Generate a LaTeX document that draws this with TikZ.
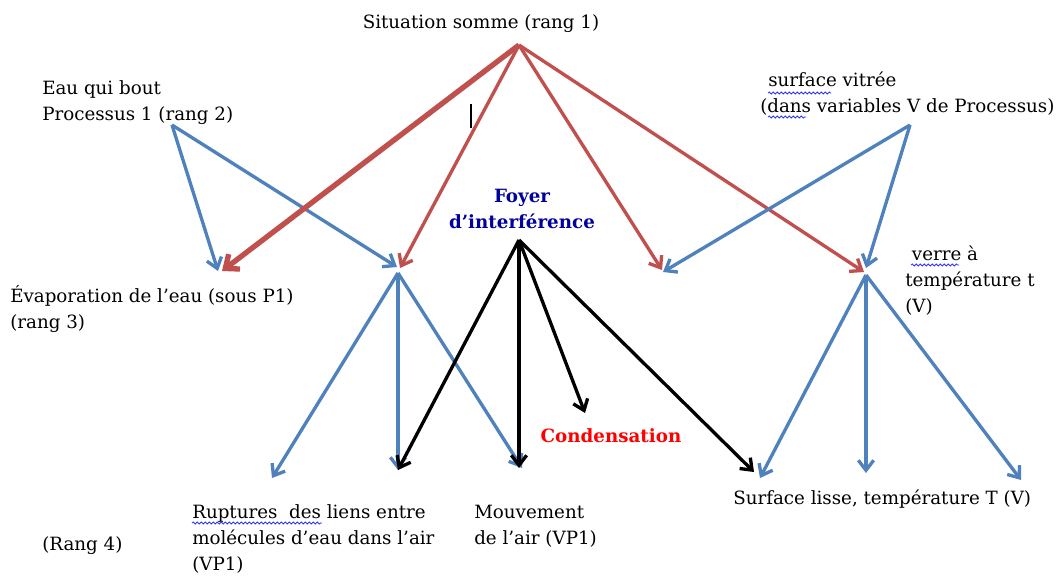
\documentclass[tikz,border=0pt]{standalone}
\usepackage{fontspec}
\setmainfont{DejaVu Serif}
\usetikzlibrary{arrows.meta,decorations.pathmorphing}
\definecolor{arblue}{HTML}{4F81BD}
\definecolor{arred}{HTML}{C0504D}
\definecolor{foyerblue}{HTML}{00009C}
\definecolor{condred}{HTML}{FF0000}
\begin{document}
\begin{tikzpicture}[x=0.75pt,y=-0.75pt,
  lbl/.style={inner sep=0pt, anchor=base west, align=left, font=\fontsize{13.7}{19.5}\selectfont},
  tip/.style={-{Straight Barb[length=7.5pt,width=11.5pt]}},
  bluearrow/.style={tip, draw=arblue, line width=2.5pt},
  redarrow/.style={tip, draw=arred, line width=2.5pt},
  thickred/.style={-{Straight Barb[length=8.5pt,width=14pt]}, draw=arred, line width=4pt},
  blackarrow/.style={tip, draw=black, line width=2.5pt},
  squiggle/.style={draw=blue!80!white, line width=0.6pt, decorate, decoration={snake, amplitude=0.8pt, segment length=3pt}}]
\useasboundingbox (0,0) rectangle (1059,575);

% labels (base = baseline of the last line)
\node[lbl, anchor=base] (title) at (481,28) {Situation somme (rang 1)};
\node[lbl] (eau) at (42,120) {Eau qui bout\\Processus 1 (rang 2)};
\node[lbl] (surf) at (760,112) {\hspace*{6pt}surface vitrée\\(dans variables V de Processus)};
\node[lbl, align=center, anchor=base, font=\fontsize{13.7}{19.5}\selectfont\bfseries, text=foyerblue] (foyer) at (522,228) {Foyer\\d’interférence};
\node[lbl] (evap) at (10,328) {Évaporation de l’eau (sous P1)\\(rang 3)};
\node[lbl] (verre) at (905,312) {\hspace*{5pt}verre à\\température t\\(V)};
\node[lbl, anchor=base, font=\fontsize{13.7}{19.5}\selectfont\bfseries, text=condred] (cond) at (611,442) {Condensation};
\node[lbl] (rupt) at (192,570) {Ruptures\ \ des liens entre\\molécules d’eau dans l’air\\(VP1)};
\node[lbl] (mouv) at (474,544) {Mouvement\\de l’air (VP1)};
\node[lbl] (lisse) at (733,504) {Surface lisse, température T (V)};
\node[lbl] (rang4) at (42,550) {(Rang 4)};

% spell-check underlines
\draw[squiggle] (768,93) -- (831,93);
\draw[squiggle] (768,117) -- (806,117);
\draw[squiggle] (911,265) -- (959,265);
\draw[squiggle] (192,523) -- (322,523);

% text caret
\draw[line width=0.8pt] (471,104) -- (471,128);

% junction points
\coordinate (S) at (519,45);
\coordinate (P) at (172,125);
\coordinate (V) at (910,125);
\coordinate (F) at (519,240);
\coordinate (B) at (398,273);
\coordinate (T) at (866,275);

% arrow targets
\coordinate (evB) at (218,271);
\coordinate (evR) at (222,271);
\coordinate (bB) at (397,267);
\coordinate (bR) at (400,268);
\coordinate (mR) at (662,270);
\coordinate (mB) at (663,272);
\coordinate (tR) at (864,272);
\coordinate (tB) at (866,268);
\coordinate (r1) at (272,478);
\coordinate (r2) at (398,470);
\coordinate (r3) at (522,468);
\coordinate (k2) at (519,468);
\coordinate (k3) at (585,413);
\coordinate (k4) at (754,472);
\coordinate (t1) at (760,478);
\coordinate (t2) at (866,473);
\coordinate (t3) at (1021,480);

% blue from Processus 1
\draw[bluearrow] (P) -- (evB);
\draw[bluearrow] (P) -- (bB);
% red from situation somme
\draw[thickred] (S) -- (evR);
\draw[redarrow] (S) -- (bR);
\draw[redarrow] (S) -- (mR);
\draw[redarrow] (S) -- (tR);
% blue from surface vitree
\draw[bluearrow] (V) -- (mB);
\draw[bluearrow] (V) -- (tB);
% blue from B
\draw[bluearrow] (B) -- (r1);
\draw[bluearrow] (B) -- (r2);
\draw[bluearrow] (B) -- (r3);
% black from Foyer
\draw[blackarrow] (F) -- (r2);
\draw[blackarrow] (F) -- (k2);
\draw[blackarrow] (F) -- (k3);
\draw[blackarrow] (F) -- (k4);
% blue from verre
\draw[bluearrow] (T) -- (t1);
\draw[bluearrow] (T) -- (t2);
\draw[bluearrow] (T) -- (t3);
\end{tikzpicture}
\end{document}
